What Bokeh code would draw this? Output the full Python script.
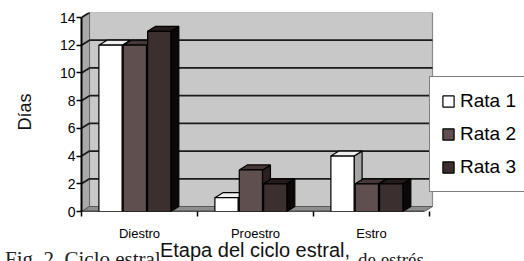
from bokeh.plotting import figure
from bokeh.models import Range1d, FixedTicker, Legend, LegendItem, Div
from bokeh.layouts import column
from bokeh.embed import file_html
from bokeh.resources import INLINE

categories = ["Diestro", "Proestro", "Estro"]
rata1 = [12, 1, 4]
rata2 = [12, 3, 2]
rata3 = [13, 2, 2]
series_names = ["Rata 1", "Rata 2", "Rata 3"]
y_ticks = [0, 2, 4, 6, 8, 10, 12, 14]
y_title = "Días"
x_title = "Etapa del ciclo estral,"
caption_left = "Fig. 2. Ciclo estral"
caption_right = "de estrés"

# pixel scales of the frame
PX_X = 116.0
PX_Y = 13.857
DX = 8 / PX_X
DY = 5 / PX_Y
X_END = 443 / PX_X
XR = 351 / PX_X

front_cols = ["#ffffff", "#5f4f4f", "#3b2f2f"]
top_cols = ["#f0f0f0", "#463838", "#241b1b"]
side_cols = ["#a4a4a4", "#2a2020", "#0c0808"]

p = figure(width=524, height=261, output_backend="svg", toolbar_location=None,
           x_range=Range1d(0, X_END), y_range=Range1d(0, 199 / PX_Y),
           min_border_left=81, min_border_right=0, min_border_top=12, min_border_bottom=50)
p.outline_line_color = None
p.xgrid.visible = False
p.ygrid.visible = False
p.background_fill_color = "white"
p.border_fill_color = "white"

ymax = y_ticks[-1]
# back wall
p.quad(left=[DX], right=[XR], bottom=[DY], top=[ymax + DY], fill_color="#c8c8c8",
       line_color="#8a8a8a", line_width=1.2)
# side wall
p.patch([0, DX, DX, 0], [0, DY, ymax + DY, ymax], fill_color="#a9a9a9", line_color="#6a6a6a", line_width=1)
# floor
p.patch([0, XR - DX, XR, DX], [0, 0, DY, DY], fill_color="#8e8e8e", line_color="#5a5a5a", line_width=1)
# gridlines (inner ones on the back wall, all on the side wall)
gy = [t for t in y_ticks if 0 < t < ymax]
p.segment(x0=[DX] * len(gy), y0=[t + DY for t in gy], x1=[XR] * len(gy), y1=[t + DY for t in gy],
          line_color="#1a1a1a", line_width=1.8)
gs = [t for t in y_ticks if t > 0]
p.segment(x0=[0] * len(gs), y0=gs, x1=[DX] * len(gs), y1=[t + DY for t in gs],
          line_color="#1a1a1a", line_width=1.8)
# floor front edge
p.segment(x0=[0], y0=[0], x1=[XR - DX], y1=[0], line_color="black", line_width=1.5)

W = 0.2
offsets = [-0.21, 0.0, 0.21]
shift = -0.04
front_renderers = []
for si, vals in enumerate([rata1, rata2, rata3]):
    lefts = [i + 0.5 + shift + offsets[si] - W / 2 for i in range(len(categories))]
    sx, sy, tx, ty = [], [], [], []
    for xl, v in zip(lefts, vals):
        sx.append([xl + W, xl + W + DX, xl + W + DX, xl + W])
        sy.append([0, DY, v + DY, v])
        tx.append([xl, xl + DX, xl + W + DX, xl + W])
        ty.append([v, v + DY, v + DY, v])
    p.patches(sx, sy, fill_color=side_cols[si], line_color="black", line_width=1.2)
    p.patches(tx, ty, fill_color=top_cols[si], line_color="black", line_width=1.2)
    r = p.quad(left=lefts, right=[l + W for l in lefts], bottom=[0] * len(vals), top=vals,
               fill_color=front_cols[si], line_color="black", line_width=1.2)
    front_renderers.append(r)

# y axis
yax = p.yaxis[0]
yax.ticker = FixedTicker(ticks=y_ticks)
yax.bounds = (0, ymax)
yax.axis_line_color = "black"
yax.axis_line_width = 2
yax.major_tick_in = 0
yax.major_tick_out = 5
yax.major_tick_line_width = 1.5
yax.minor_tick_line_color = None
yax.major_label_text_font = "Liberation Sans"
yax.major_label_text_font_size = "14px"
yax.major_label_text_color = "black"
yax.major_label_standoff = 1
yax.axis_label = y_title
yax.axis_label_text_font = "Liberation Sans"
yax.axis_label_text_font_size = "18px"
yax.axis_label_text_font_style = "normal"
yax.axis_label_text_color = "#111111"
yax.axis_label_standoff = 22

# x axis
xax = p.xaxis[0]
centers = [i + 0.5 for i in range(len(categories))]
xax.ticker = FixedTicker(ticks=centers, minor_ticks=[0, 1, 2, 3])
xax.bounds = (0, 3)
xax.axis_line_color = None
xax.major_tick_line_color = None
xax.major_tick_out = 0
xax.minor_tick_out = 5
xax.minor_tick_in = 0
xax.minor_tick_line_width = 1.5
xax.minor_tick_line_color = "black"
xax.major_label_overrides = {c: n for c, n in zip(centers, categories)}
xax.major_label_text_font = "Liberation Sans"
xax.major_label_text_font_size = "13px"
xax.major_label_text_color = "black"
xax.major_label_standoff = 9

legend = Legend(items=[LegendItem(label=n, renderers=[r]) for n, r in zip(series_names, front_renderers)],
                location=(348, 19), orientation="vertical")
legend.label_text_font = "Liberation Sans"
legend.label_text_font_size = "19px"
legend.label_text_color = "black"
legend.glyph_width = 14
legend.glyph_height = 14
legend.label_standoff = 5
legend.label_height = 26
legend.label_width = 120
legend.spacing = 7
legend.padding = 11
legend.margin = 0
legend.border_line_color = "black"
legend.border_line_width = 1.5
legend.background_fill_color = "white"
legend.background_fill_alpha = 1
p.add_layout(legend)

caption_html = (
    '<div style="position:relative;width:524px;height:40px;">'
    '<span style="position:absolute;left:5px;top:7px;font-family:\'Liberation Serif\';'
    'font-size:21px;line-height:24px;color:#222222;white-space:nowrap;">' + caption_left + '</span>'
    '<span style="position:absolute;left:358px;top:9px;font-family:\'Liberation Serif\';'
    'font-size:19px;line-height:22px;color:#222222;white-space:nowrap;">' + caption_right + '</span>'
    '<span style="position:absolute;left:255px;top:-1px;transform:translateX(-50%);'
    'font-family:\'Liberation Sans\';font-size:20px;line-height:22px;color:#111111;'
    'background:white;padding:0 1px;white-space:nowrap;z-index:2;">' + x_title + '</span>'
    '</div>'
)
caption = Div(text=caption_html, width=524, height=40, margin=(-21, 0, 0, 0))

layout = column(p, caption, spacing=0)
open("out.html", "w").write(file_html(layout, INLINE))
